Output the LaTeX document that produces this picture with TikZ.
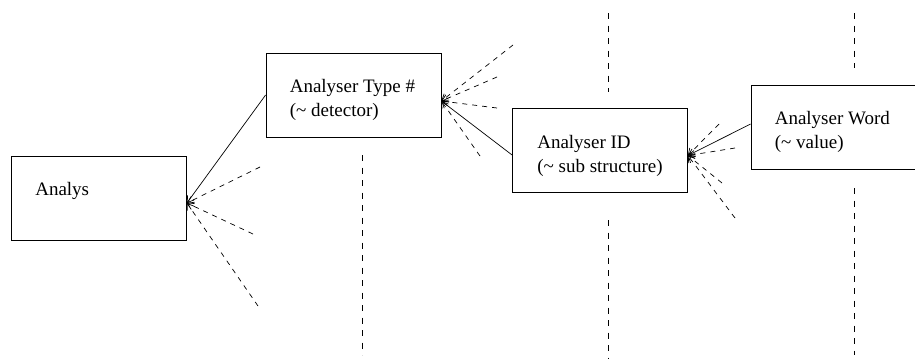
\documentclass[tikz,border=0pt]{standalone}
\usepackage{fontspec}
\setmainfont{Liberation Serif}
\usetikzlibrary{arrows.meta}

\begin{document}
\begin{tikzpicture}[x=1pt,y=-1pt,
  box/.style={draw,line width=0.8pt,minimum width=175pt,minimum height=84pt,inner sep=0pt},
  txt/.style={anchor=base west,align=left,inner sep=0pt,font=\fontsize{19}{24}\selectfont},
  link/.style={-{Straight Barb[length=6pt,width=8pt]},line width=0.7pt},
  hint/.style={link,dash pattern=on 5pt off 5pt},
  life/.style={line width=0.9pt,dash pattern=on 6pt off 6.5pt}]
\useasboundingbox (0,0) rectangle (915,360);

\node[box] (analys) at (99,198) {};
\node[box] (type) at (353.5,95) {};
\node[box] (id) at (600,150.5) {};
\node[box] (word) at (838.5,127) {};

\node[txt] (analys txt) at ([xshift=24pt,yshift=-40pt]analys.north west) {Analys};
\node[txt] (type txt) at ([xshift=24pt,yshift=-64pt]type.north west) {Analyser Type \#\\(\char`\~{} detector)};
\node[txt] (id txt) at ([xshift=25pt,yshift=-64pt]id.north west) {Analyser ID\\(\char`\~{} sub structure)};
\node[txt] (word txt) at ([xshift=24pt,yshift=-64pt]word.north west) {Analyser Word\\(\char`\~{} value)};

\coordinate (analys in) at ([yshift=-5pt]analys.east);
\coordinate (type in) at ([yshift=-6pt]type.east);
\coordinate (id in) at ([yshift=-5pt]id.east);

\draw[link] (type.west) -- (analys in);
\draw[link] ([yshift=-4.5pt]id.west) -- (type in);
\draw[link] ([yshift=3pt]word.west) -- (id in);

\foreach \p in {(260,167),(253,234),(258,306)}
  \draw[hint] \p -- (analys in);
\foreach \p in {(513,45),(497,77),(497,108),(480,156)}
  \draw[hint] \p -- (type in);
\foreach \p in {(719,124),(735,148),(722,183),(735,218)}
  \draw[hint] \p -- (id in);

\draw[life] (362,155) -- (362,355);
\draw[life] (608,13) -- (608,92);
\draw[life] (608,220) -- (608,358);
\draw[life] (854,13) -- (854,68);
\draw[life] (854,188) -- (854,355);
\end{tikzpicture}
\end{document}
